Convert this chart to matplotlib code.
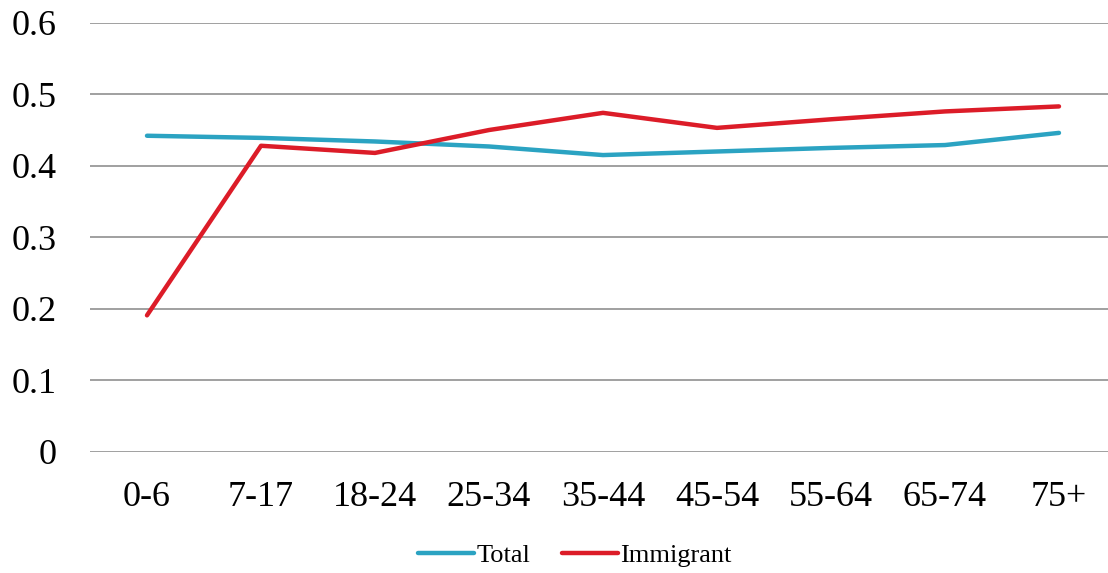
import matplotlib
matplotlib.use("Agg")
import matplotlib.pyplot as plt

ages = ["0-6", "7-17", "18-24", "25-34", "35-44", "45-54", "55-64", "65-74", "75+"]
total = [0.442, 0.439, 0.434, 0.427, 0.415, 0.420, 0.425, 0.429, 0.446]
immigrant = [0.191, 0.428, 0.418, 0.450, 0.474, 0.453, 0.465, 0.476, 0.483]

plt.rcParams['font.family'] = ['Liberation Serif', 'DejaVu Serif']

fig = plt.figure(figsize=(11.08, 5.73), dpi=100)
ax = fig.add_axes([90/1108, 1 - 452/573, 1 - 90/1108, (452 - 22.7)/573])

x = list(range(len(ages)))
ax.plot(x, total, color='#2ba3c2', lw=3.2, solid_capstyle='round', label="Total")
ax.plot(x, immigrant, color='#dc1c28', lw=3.2, solid_capstyle='round', label="Immigrant")

ax.set_ylim(0, 0.6)
ax.set_xlim(-0.5, 8.43)
ax.set_yticks([0, 0.1, 0.2, 0.3, 0.4, 0.5, 0.6])
ax.set_yticklabels(["0", "0.1", "0.2", "0.3", "0.4", "0.5", "0.6"])
ax.set_xticks(x)
ax.set_xticklabels(ages)
ax.grid(axis='y', color='#999999', lw=1.3)
ax.set_axisbelow(True)
for s in ax.spines.values():
    s.set_visible(False)
ax.tick_params(axis='both', length=0, labelsize=26)
ax.tick_params(axis='x', pad=21)
ax.tick_params(axis='y', pad=24)

ax.legend(loc='center', bbox_to_anchor=(575/1108, 1 - 555/573), bbox_transform=fig.transFigure,
          ncol=2, frameon=False, fontsize=19, handlelength=2.1, handletextpad=0.1,
          columnspacing=1.2)

plt.savefig("out.png", dpi=100)
